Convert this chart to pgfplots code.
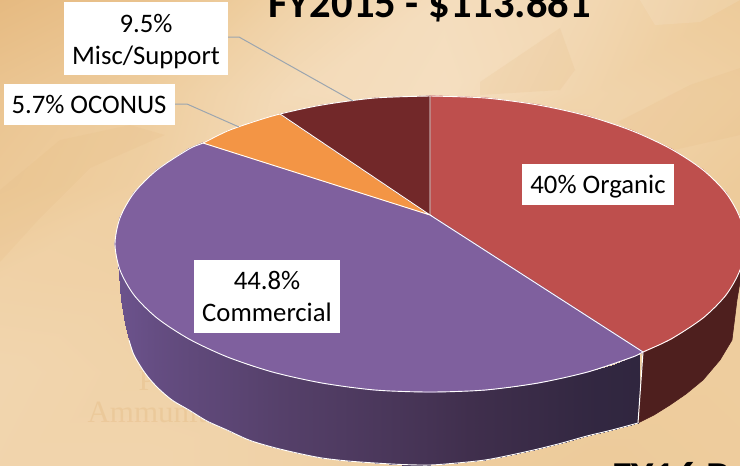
\documentclass[border=0pt]{standalone}
\usepackage{fontspec}
\setmainfont{Carlito}
\newfontfamily\ghostfont{Liberation Serif}
\usepackage{pgfplots}
\pgfplotsset{compat=1.18}
\definecolor{organic}{RGB}{190,79,77}
\definecolor{commercial}{RGB}{127,96,158}
\definecolor{oconus}{RGB}{243,149,69}
\definecolor{misc}{RGB}{114,40,41}
\definecolor{organicside}{RGB}{78,31,30}
\definecolor{leader}{RGB}{155,165,175}
\definecolor{patchtan}{RGB}{226,180,120}
\pgfplotsset{
  colormap={paper}{rgb255=(229,184,126) rgb255=(238,205,158) rgb255=(247,228,203)},
  colormap={sidegrad}{rgb255=(48,38,63) rgb255=(64,47,77) rgb255=(84,63,104) rgb255=(108,83,141)},
}
\begin{document}
\begin{tikzpicture}
\useasboundingbox (0,0) rectangle (740pt,466pt);
\clip (0,0) rectangle (740pt,466pt);
\begin{axis}[
  at={(0,0)}, anchor=south west,
  scale only axis, width=740pt, height=466pt,
  xmin=0, xmax=740, ymin=0, ymax=466,
  y dir=reverse,
  hide axis,
  point meta min=0, point meta max=1,
  clip=true,
]
% textured backdrop
\addplot[surf, shader=interp, colormap name=paper, mesh/rows=6, point meta=\thisrow{c}] table {
x y c
0 0 0.05
148 0 0.25
296 0 0.62
444 0 0.85
592 0 0.72
740 0 0.45
0 93 0.30
148 93 0.50
296 93 0.80
444 93 0.88
592 93 0.65
740 93 0.55
0 186 0.40
148 186 0.55
296 186 0.6
444 186 0.6
592 186 0.6
740 186 0.45
0 279 0.60
148 279 0.58
296 279 0.6
444 279 0.6
592 279 0.6
740 279 0.50
0 372 0.68
148 372 0.62
296 372 0.6
444 372 0.6
592 372 0.5
740 372 0.50
0 466 0.66
148 466 0.66
296 466 0.6
444 466 0.5
592 466 0.45
740 466 0.48
};
% faint shapes in the backdrop
\addplot[fill=patchtan, fill opacity=0.14, draw=none] coordinates {(480,82) (560,28) (575,70) (560,90) (480,95)} --cycle;
\addplot[fill=patchtan, fill opacity=0.14, draw=none] coordinates {(618,122) (690,85) (740,68) (740,135) (665,152)} --cycle;
\addplot[fill=patchtan, fill opacity=0.12, draw=none] coordinates {(0,190) (60,140) (130,125) (165,135) (90,168) (40,218) (0,262)} --cycle;
\addplot[fill=white, fill opacity=0.1, draw=none] coordinates {(640,0) (655,25) (700,22) (740,0)} --cycle;
\node[anchor=base west, font=\fontsize{31}{31}\ghostfont, text=patchtan, opacity=0.3] at (axis cs:84,422) {Ammunition};
\node[anchor=base west, font=\fontsize{31}{31}\ghostfont, text=patchtan, opacity=0.3] at (axis cs:135,390) {P};
% commercial side wall
\addplot[surf, shader=interp, colormap name=sidegrad, mesh/rows=2, point meta=\thisrow{c}] table {
x y c
118 262 1.00
121 273 0.99
125 281 0.98
129 288 0.97
134 295 0.96
145 307 0.93
157 318 0.90
172 329 0.87
189 339 0.84
207 348 0.81
227 357 0.78
249 365 0.74
272 372 0.70
297 378 0.66
322 383 0.62
348 387 0.57
375 390 0.52
402 391 0.47
430 392 0.42
457 391 0.36
485 390 0.30
511 387 0.24
538 383 0.18
562 378 0.12
587 372 0.06
612 365 0.03
640 354 0.00
118 262 1.00
121 300 0.99
125 323 0.98
129 340 0.97
134 355 0.96
145 373 0.93
157 387 0.90
172 400 0.87
189 410 0.84
207 421 0.81
227 430 0.78
249 440 0.74
272 447 0.70
297 453 0.66
322 458 0.62
348 461 0.57
375 463 0.52
402 464.5 0.47
430 465 0.42
457 463 0.36
485 460 0.30
511 455 0.24
538 449 0.18
562 443 0.12
587 436 0.06
612 430 0.03
638 423 0.00
};
% organic side wall
\addplot[fill=organicside, draw=organicside, line width=0.6pt, line join=round] coordinates {
(643,352) (671,339) (703,318) (726,295) (740,270) (745,244) (745,270) (741,276)
(737,300) (732,340) (720,360) (703,380) (686,394) (670,405) (654,415) (638,423)} --cycle;
% wall outlines
\addplot[white, line width=0.9pt, smooth] coordinates {
(129,340) (134,355) (145,373) (157,387) (172,400) (189,410) (207,421) (227,430) (249,440) (272,447) (297,453) (322,458)
(348,461) (375,463) (402,464.5) (430,465) (457,463) (485,460) (511,455) (538,449) (562,443) (587,436) (612,430) (638,423)};
\addplot[white, line width=1pt] coordinates {(643,352) (638,423)};
% top face wedges
\addplot[fill=organic, draw=organic, line width=1.4pt, line join=round] coordinates {
(430,96) (485,98) (538,105) (587.5,116) (632.5,131) (671,149) (703,170) (726,193)
(740,218) (745,244) (740,270) (726,295) (703,318) (671,339) (643,352) (430,215)} --cycle;
\addplot[fill=commercial, draw=commercial, line width=1.4pt, line join=round] coordinates {
(643,352) (632.5,357) (587.5,372) (538,383) (485,390) (430,392) (375,390) (322,383)
(272.5,372) (227.5,357) (189,339) (157,318) (134,295) (120,270) (115,244) (120,218)
(134,193) (157,170) (189,149) (203,143) (430,215)} --cycle;
\addplot[fill=oconus, draw=oconus, line width=0.8pt, line join=round] coordinates {(203,143) (227.5,131) (253,122) (280,114) (430,215)} --cycle;
\addplot[fill=misc, draw=misc, line width=0.8pt, line join=round] coordinates {(280,114) (322,105) (375,98) (430,96) (430,215)} --cycle;
% wedge edges
\addplot[white, line width=0.9pt] coordinates {(430,96) (430,215) (643,352)};
\addplot[white, line width=0.9pt] coordinates {(203,143) (430,215) (280,114)};
\addplot[white, line width=0.9pt, smooth] coordinates {
(430,96) (485,98) (538,105) (587.5,116) (632.5,131) (671,149) (703,170) (726,193)
(740,218) (745,244) (740,270) (726,295) (703,318) (671,339) (643,352) (632.5,357) (587.5,372) (538,383) (485,390) (430,392) (375,390) (322,383)
(272.5,372) (227.5,357) (189,339) (157,318) (134,295) (120,270) (115,244) (120,218)
(134,193) (157,170) (189,149) (203,143) (227.5,131) (253,122) (280,114) (322,105) (375,98) (430,96)};
% leaders
\addplot[leader, line width=1pt] coordinates {(228,37) (239,37) (353,101)};
\addplot[leader, line width=1pt] coordinates {(175,104) (187,104) (239,127)};
% label boxes
\addplot[fill=white, draw=none] coordinates {(64,2) (228,2) (228,75) (64,75)} --cycle;
\addplot[fill=white, draw=none] coordinates {(4,84) (175,84) (175,125) (4,125)} --cycle;
\addplot[fill=white, draw=none] coordinates {(522,164) (674,164) (674,205) (522,205)} --cycle;
\addplot[fill=white, draw=none] coordinates {(194,260) (340,260) (340,333) (194,333)} --cycle;
\tikzset{lab/.style={font=\fontsize{26.7}{26.7}\selectfont, text=black, inner sep=0pt, anchor=base}}
\node[lab] at (axis cs:146,32) {9.5\%};
\node[lab] at (axis cs:146,64.5) {Misc/Support};
\node[lab] at (axis cs:89,113) {5.7\% OCONUS};
\node[lab] at (axis cs:598,193) {40\% Organic};
\node[lab] at (axis cs:267,289) {44.8\%};
\node[lab] at (axis cs:267,321) {Commercial};
\node[font=\fontsize{42.6}{42.6}\selectfont\bfseries, anchor=base west, inner sep=0pt] at (axis cs:268,17) {FY2015 - \$113.881};
\node[font=\fontsize{42.6}{42.6}\selectfont\bfseries, anchor=base west, inner sep=0pt] at (axis cs:612,491) {FY16 B};
\end{axis}
\end{tikzpicture}
\end{document}
